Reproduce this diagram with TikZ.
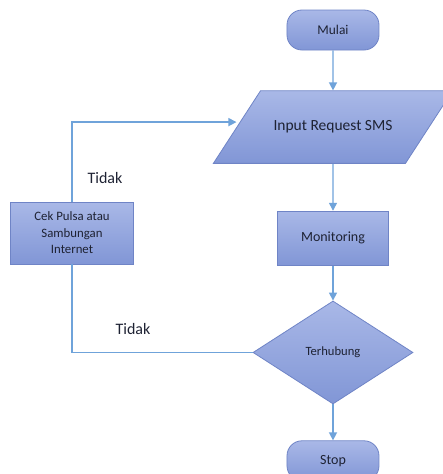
\documentclass[tikz,border=0pt]{standalone}
\usepackage{fontspec}
\setmainfont{Carlito}
\usetikzlibrary{positioning,shapes.geometric,arrows.meta}
\definecolor{FlowTop}{HTML}{A9B8E7}
\definecolor{FlowBottom}{HTML}{8196D6}
\definecolor{FlowEdge}{HTML}{6F84C6}
\definecolor{FlowLine}{HTML}{6FA3DA}
\definecolor{FlowText}{HTML}{1E2233}

\begin{document}
\begin{tikzpicture}[node distance=40pt and 40pt, every node/.style={font=\fontsize{13}{15}\selectfont,text=FlowText},
  shapebox/.style={draw=FlowEdge,line width=0.8pt,top color=FlowTop,bottom color=FlowBottom,align=center,inner sep=2pt},
  termbox/.style={shapebox,rounded corners=15pt,minimum width=92pt,minimum height=40pt},
  procbox/.style={shapebox,minimum width=111pt,minimum height=54pt},
  iobox/.style={shapebox,trapezium,trapezium left angle=57,trapezium right angle=123,inner xsep=13pt,inner ysep=30pt},
  decbox/.style={shapebox,diamond,inner sep=0pt,minimum width=160pt,minimum height=103pt},
  flow/.style={draw=FlowLine,line width=1.4pt,-{Triangle[length=8pt,width=8pt]}},
  link/.style={draw=FlowLine,line width=1.4pt}]
\useasboundingbox (-333pt,30pt) rectangle (110pt,-444pt);
% main column
\node[termbox,font=\fontsize{13.4}{16}\selectfont] (mulai) at (0,0) {Mulai};
\node[iobox,below=40pt of mulai,font=\fontsize{15.5}{18}\selectfont] (input) {Input Request SMS};
\node[procbox,below=47pt of input,font=\fontsize{14}{17}\selectfont] (monitor) {Monitoring};
\node[decbox,below=35pt of monitor,font=\fontsize{12.6}{15}\selectfont] (terhubung) {Terhubung};
\node[termbox,below=36pt of terhubung,font=\fontsize{14}{17}\selectfont] (stop) {Stop};
% side box
\node[procbox,minimum width=123pt,minimum height=62pt,font=\fontsize{12.8}{16.5}\selectfont] (cekpulsa) at (-261pt,-203pt) {Cek Pulsa atau\\Sambungan\\Internet};
\node[font=\fontsize{16}{19}\selectfont] (tidaka) at (-228pt,-148pt) {Tidak};
\node[font=\fontsize{16}{19}\selectfont] (tidakb) at (-200pt,-299pt) {Tidak};
\draw[flow] (mulai) -- (input);
\draw[flow] (input) -- (monitor);
\draw[flow] (monitor) -- (terhubung);
\draw[flow] (terhubung) -- (stop);
\draw[link] (terhubung.west) -| (cekpulsa.south);
\draw[flow] (cekpulsa.north) |- ([yshift=5pt]input.west);
\end{tikzpicture}
\end{document}
